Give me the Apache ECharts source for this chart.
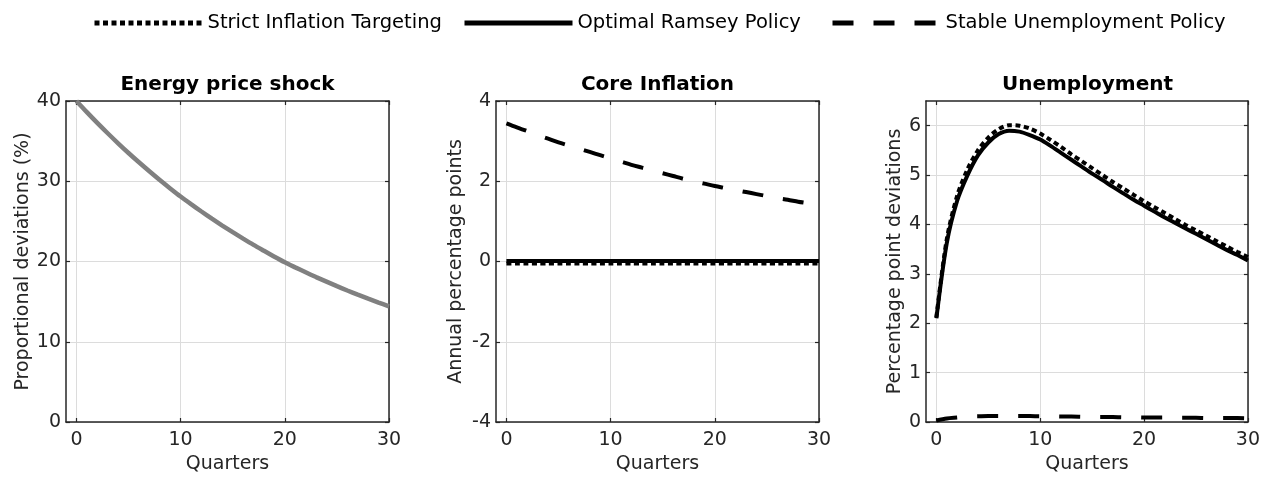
<!DOCTYPE html>
<html>
<head>
<meta charset="utf-8">
<script src="https://cdn.jsdelivr.net/npm/echarts@6/dist/echarts.min.js"></script>
<style>html,body{margin:0;padding:0;background:#fff}#chart{width:1263px;height:479px}</style>
</head>
<body>
<div id="chart"></div>
<script>
// ---- data ----
const quarters = [0,1,2,3,4,5,6,7,8,9,10,11,12,13,14,15,16,17,18,19,20,21,22,23,24,25,26,27,28,29,30];
const seriesNames = ['Strict Inflation Targeting', 'Optimal Ramsey Policy', 'Stable Unemployment Policy'];
const panelTitles = ['Energy price shock', 'Core Inflation', 'Unemployment'];
const yAxisNames = ['Proportional deviations (%)', 'Annual percentage points', 'Percentage point deviations'];
const xAxisName = 'Quarters';
const xTicks = [0, 10, 20, 30];
const yTicksUnemp = [0, 1, 2, 3, 4, 5, 6];

const energyShock = [40.00, 38.61, 37.27, 35.98, 34.73, 33.52, 32.36, 31.24, 30.15, 29.11, 28.10, 27.15, 26.23, 25.34, 24.48, 23.65, 22.85, 22.07, 21.33, 20.60, 19.90, 19.27, 18.66, 18.06, 17.49, 16.93, 16.39, 15.87, 15.37, 14.88, 14.41];

const coreStrict = [-0.05,-0.05,-0.05,-0.05,-0.05,-0.05,-0.05,-0.05,-0.05,-0.05,-0.05,-0.05,-0.05,-0.05,-0.05,-0.05,-0.05,-0.05,-0.05,-0.05,-0.05,-0.05,-0.05,-0.05,-0.05,-0.05,-0.05,-0.05,-0.05,-0.05,-0.05];
const coreRamsey = [0.01,0.01,0.01,0.01,0.01,0.01,0.01,0.01,0.01,0.01,0.01,0.01,0.01,0.01,0.01,0.01,0.01,0.01,0.01,0.01,0.01,0.01,0.01,0.01,0.01,0.01,0.01,0.01,0.01,0.01,0.01];
const coreStable = [3.44, 3.34, 3.25, 3.15, 3.06, 2.97, 2.89, 2.81, 2.73, 2.65, 2.57, 2.49, 2.41, 2.34, 2.27, 2.20, 2.13, 2.06, 2.00, 1.94, 1.88, 1.83, 1.78, 1.73, 1.68, 1.63, 1.58, 1.54, 1.49, 1.45, 1.41];

const unempStrict = [2.12, 3.70, 4.58, 5.12, 5.50, 5.76, 5.93, 6.01, 6.00, 5.94, 5.84, 5.71, 5.57, 5.42, 5.28, 5.14, 5.00, 4.86, 4.73, 4.60, 4.47, 4.35, 4.23, 4.11, 3.99, 3.88, 3.77, 3.66, 3.55, 3.44, 3.34];
const unempRamsey = [2.10, 3.62, 4.48, 5.00, 5.40, 5.66, 5.83, 5.90, 5.88, 5.81, 5.72, 5.59, 5.45, 5.31, 5.17, 5.03, 4.90, 4.76, 4.63, 4.50, 4.38, 4.26, 4.14, 4.03, 3.92, 3.81, 3.70, 3.59, 3.48, 3.38, 3.27];
const unempStable = [0.03, 0.07, 0.09, 0.11, 0.115, 0.12, 0.12, 0.12, 0.12, 0.12, 0.115, 0.115, 0.11, 0.11, 0.105, 0.10, 0.10, 0.10, 0.095, 0.095, 0.09, 0.09, 0.09, 0.085, 0.085, 0.085, 0.08, 0.08, 0.08, 0.08, 0.075];

// ---- styling / layout ----
const FONT = 'DejaVu Sans';
const AX = '#262626';
const GRIDC = '#dcdcdc';
const panels = [
  {left: 66, yMin: 0, yMax: 40, yInt: 10, nameGap: 33},
  {left: 496, yMin: -4, yMax: 4, yInt: 2, nameGap: 30},
  {left: 926, yMin: 0, yMax: 6.5, yInt: null, nameGap: 21}
];
const PW = 323, PT = 101, PH = 322;

const pair = (ys) => quarters.map((q, i) => [q, ys[i]]);

const grids = [], xAxes = [], yAxes = [], titles = [];
panels.forEach((p, i) => {
  grids.push({left: p.left, top: PT, width: PW, height: PH, containLabel: false});
  titles.push({
    text: panelTitles[i], left: p.left + PW / 2, top: 75, textAlign: 'center', padding: 0,
    textStyle: {fontFamily: FONT, fontWeight: 'bold', fontSize: 20, color: '#000'}
  });
  const tick = {show: true, inside: true, length: 4, lineStyle: {color: AX, width: 1.2}, customValues: xTicks};
  xAxes.push({
    type: 'value', gridIndex: i, min: -1, max: 30, position: 'bottom',
    name: xAxisName, nameLocation: 'middle', nameGap: 33,
    nameTextStyle: {fontFamily: FONT, fontSize: 19, color: AX},
    axisLine: {show: true, onZero: false, lineStyle: {color: AX, width: 1.5}},
    axisTick: tick,
    axisLabel: {show: true, margin: 9, fontFamily: FONT, fontSize: 19, color: AX, customValues: xTicks},
    splitLine: {show: true, lineStyle: {color: GRIDC, width: 1}}
  });
  xAxes.push({
    type: 'value', gridIndex: i, min: -1, max: 30, position: 'top',
    axisLine: {show: true, onZero: false, lineStyle: {color: AX, width: 1.5}},
    axisTick: tick, axisLabel: {show: false}, splitLine: {show: false}
  });
  const yTick = {show: true, inside: true, length: 4, lineStyle: {color: AX, width: 1.2}};
  const yLabel = {show: true, margin: 5, fontFamily: FONT, fontSize: 19, color: AX};
  const yBase = {type: 'value', gridIndex: i, min: p.yMin, max: p.yMax};
  if (p.yInt) { yBase.interval = p.yInt; }
  else { yTick.customValues = yTicksUnemp; yLabel.customValues = yTicksUnemp; }
  yAxes.push(Object.assign({}, yBase, {
    position: 'left', name: yAxisNames[i], nameLocation: 'middle', nameGap: p.nameGap,
    nameTextStyle: {fontFamily: FONT, fontSize: 19, color: AX},
    axisLine: {show: true, onZero: false, lineStyle: {color: AX, width: 1.5}},
    axisTick: yTick, axisLabel: yLabel,
    splitLine: {show: true, lineStyle: {color: GRIDC, width: 1}}
  }));
  yAxes.push(Object.assign({}, yBase, {
    position: 'right',
    axisLine: {show: true, onZero: false, lineStyle: {color: AX, width: 1.5}},
    axisTick: yTick, axisLabel: {show: false}, splitLine: {show: false}
  }));
});

const styleFor = {
  'Strict Inflation Targeting': {color: '#000', width: 4, type: [5, 3.5]},
  'Optimal Ramsey Policy': {color: '#000', width: 4, type: 'solid'},
  'Stable Unemployment Policy': {color: '#000', width: 4, type: [21, 20]}
};
const mk = (name, data, axisIdx) => ({
  type: 'line', name: name, data: pair(data), xAxisIndex: axisIdx * 2, yAxisIndex: axisIdx * 2,
  showSymbol: false, symbol: 'none', smooth: 0.3, animation: false,
  lineStyle: Object.assign({}, styleFor[name]),
  itemStyle: {color: '#000'}
});

const series = [
  {type: 'line', name: 'Energy price shock', data: pair(energyShock), xAxisIndex: 0, yAxisIndex: 0,
   showSymbol: false, symbol: 'none', smooth: 0.3, animation: false, lineStyle: {color: '#808080', width: 4.5}},
  mk(seriesNames[0], coreStrict, 1),
  mk(seriesNames[1], coreRamsey, 1),
  mk(seriesNames[2], coreStable, 1),
  mk(seriesNames[0], unempStrict, 2),
  mk(seriesNames[1], unempRamsey, 2),
  mk(seriesNames[2], unempStable, 2)
];

const legendLefts = [92, 462, 830];
const legends = seriesNames.map((n, i) => ({
  data: [n], left: legendLefts[i], top: 13, padding: 0,
  itemWidth: 108, itemHeight: 20, itemGap: 7, selectedMode: false,
  itemStyle: {opacity: 0},
  lineStyle: {width: 5},
  textStyle: {fontFamily: FONT, fontSize: 19.5, color: '#000'}
}));

const chart = echarts.init(document.getElementById('chart'), null, {renderer: 'canvas'});
chart.setOption({
  animation: false,
  backgroundColor: '#fff',
  title: titles,
  legend: legends,
  grid: grids,
  xAxis: xAxes,
  yAxis: yAxes,
  series: series
});
</script>
</body>
</html>
